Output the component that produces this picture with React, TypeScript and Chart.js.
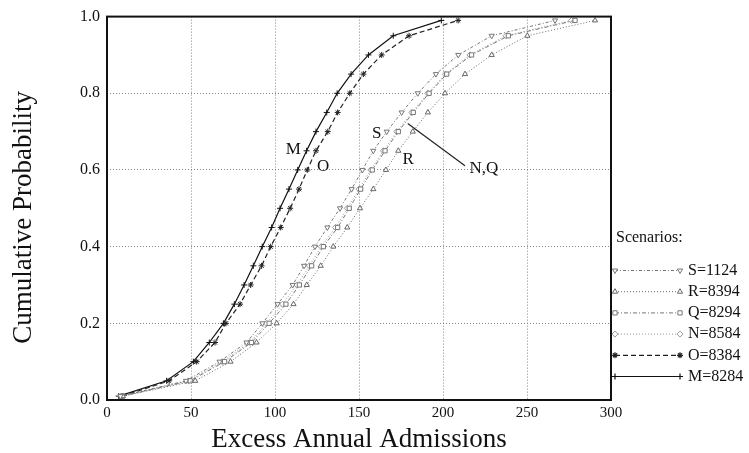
import { useEffect, useRef } from 'react';
import { Chart, registerables } from 'chart.js';
import { drawPoint } from 'chart.js/helpers';

Chart.register(...registerables);

const SERIF = '"Liberation Serif", "DejaVu Serif", serif';

// cumulative probability levels at which each curve is marked
const probabilities = [0.01, 0.05, 0.10, 0.15, 0.20, 0.25, 0.30, 0.35, 0.40, 0.45, 0.50, 0.55, 0.60, 0.65, 0.70, 0.75, 0.80, 0.85, 0.90, 0.95, 0.99];

// excess annual admissions for each scenario
const admissionsS = [8, 47, 67, 83, 92.5, 101.5, 110.5, 117.3, 123.8, 131.2, 138.7, 145.6, 152, 158.5, 166.5, 175.4, 185, 195.8, 209.1, 229, 266.7];
const admissionsR = [9.5, 52.5, 73.5, 89, 101, 111, 118.9, 127.2, 134.7, 143, 150.6, 158.5, 166, 173.4, 182, 191, 201.2, 213.1, 229, 250.2, 290.5];
const admissionsQ = [9, 49.5, 70, 86, 96.5, 106.5, 114.5, 121.8, 128.8, 137.3, 144.2, 151, 157.9, 165.5, 173.4, 182.3, 191.7, 202.2, 217, 238.9, 278.6];
const admissionsN = [8.5, 48.5, 68.5, 85, 95, 104.5, 113, 120.5, 127.5, 136, 143, 150, 157, 164.5, 172.5, 181.5, 191, 201.5, 216, 237.5, 276.5];
const admissionsO = [9, 37, 53.4, 64.3, 70.8, 79.2, 85.5, 92, 97.4, 103.4, 109, 114.3, 119.2, 124.4, 131.4, 137.3, 144.5, 152.6, 163.5, 179.8, 209];
const admissionsM = [7, 35.5, 51.4, 60.9, 69.3, 75.8, 81.6, 87.1, 92.4, 98, 103, 108.3, 113.5, 118.8, 124.4, 130.8, 137, 145.3, 155.6, 170.4, 199];

const scenarioLabels = ['S=1124', 'R=8394', 'Q=8294', 'N=8584', 'O=8384', 'M=8284'];

const xTicks = [0, 50, 100, 150, 200, 250, 300];
const yTicks = [0, 0.2, 0.4, 0.6, 0.8, 1.0];

const xTitle = 'Excess Annual Admissions';
const yTitle = 'Cumulative Probability';
const legendTitle = 'Scenarios:';

// in-plot curve labels (data coordinates)
const annotationTexts = ['M', 'O', 'S', 'R', 'N,Q'];
const annotationX = [110.9, 128.7, 160.5, 179.3, 224.4];
const annotationY = [0.652, 0.609, 0.695, 0.626, 0.604];
const leaderX = [179, 213.1];
const leaderY = [0.721, 0.611];

const toPoints = (xs: number[]) => xs.map((x, i) => ({ x, y: probabilities[i] }));

const framePlugin = {
  id: 'frame',
  afterDatasetsDraw(chart: any) {
    const { ctx, chartArea: a, scales } = chart;
    ctx.save();
    ctx.strokeStyle = '#111';
    ctx.lineWidth = 2;
    ctx.setLineDash([]);
    ctx.strokeRect(a.left, a.top, a.right - a.left, a.bottom - a.top);

    ctx.fillStyle = '#111';
    ctx.font = `17px ${SERIF}`;
    ctx.textAlign = 'center';
    ctx.textBaseline = 'middle';
    annotationTexts.forEach((t, i) => {
      ctx.fillText(t, scales.x.getPixelForValue(annotationX[i]), scales.y.getPixelForValue(annotationY[i]));
    });
    ctx.lineWidth = 1.2;
    ctx.strokeStyle = '#222';
    ctx.beginPath();
    ctx.moveTo(scales.x.getPixelForValue(leaderX[0]), scales.y.getPixelForValue(leaderY[0]));
    ctx.lineTo(scales.x.getPixelForValue(leaderX[1]), scales.y.getPixelForValue(leaderY[1]));
    ctx.stroke();
    ctx.restore();
  },
  afterDraw(chart: any) {
    const { ctx, chartArea: a } = chart;
    ctx.save();
    // y-axis title, drawn rotated
    ctx.font = `27px ${SERIF}`;
    ctx.fillStyle = '#111';
    ctx.textAlign = 'center';
    ctx.textBaseline = 'middle';
    ctx.translate(24, (a.top + a.bottom) / 2 + 9);
    ctx.rotate(-Math.PI / 2);
    ctx.fillText(yTitle, 0, 0);
    ctx.restore();

    const x0 = a.right + 4;
    const x1 = a.right + 69;
    const tx = a.right + 77;
    ctx.save();
    ctx.font = `16px ${SERIF}`;
    ctx.fillStyle = '#111';
    ctx.textAlign = 'left';
    ctx.textBaseline = 'middle';
    ctx.fillText(legendTitle, a.right + 5, 238);
    chart.data.datasets.forEach((ds: any, i: number) => {
      const y = 270.5 + i * 21.2;
      ctx.strokeStyle = ds.borderColor;
      ctx.lineWidth = ds.borderWidth;
      ctx.setLineDash(ds.borderDash || []);
      ctx.beginPath();
      ctx.moveTo(x0, y);
      ctx.lineTo(x1, y);
      ctx.stroke();
      ctx.setLineDash([]);
      ctx.fillStyle = '#fff';
      ctx.strokeStyle = ds.pointBorderColor;
      for (const px of [x0, x1]) {
        drawPoint(ctx, { pointStyle: ds.pointStyle, rotation: ds.pointRotation || 0, radius: ds.pointRadius, borderWidth: ds.pointBorderWidth }, px, y);
      }
      ctx.fillStyle = '#111';
      ctx.fillText(ds.label, tx, y);
    });
    ctx.restore();
  },
};

export default function App() {
  const ref = useRef<HTMLCanvasElement | null>(null);

  useEffect(() => {
    if (!ref.current) return;
    const common = { fill: false, tension: 0, pointRadius: 3, pointBorderWidth: 1, pointBackgroundColor: '#fff', borderWidth: 1 };
    const chart = new Chart(ref.current, {
      type: 'line',
      data: {
        datasets: [
          { ...common, label: scenarioLabels[0], data: toPoints(admissionsS), borderColor: '#777', pointBorderColor: '#777', borderDash: [3, 2, 1, 2], pointStyle: 'triangle', pointRotation: 180 },
          { ...common, label: scenarioLabels[1], data: toPoints(admissionsR), borderColor: '#666', pointBorderColor: '#666', borderDash: [1, 2], pointStyle: 'triangle' },
          { ...common, label: scenarioLabels[2], data: toPoints(admissionsQ), borderColor: '#777', pointBorderColor: '#777', borderDash: [4, 2, 1, 2], pointStyle: 'rect' },
          { ...common, label: scenarioLabels[3], data: toPoints(admissionsN), borderColor: '#999', pointBorderColor: '#999', borderDash: [1, 2], pointStyle: 'rectRot' },
          { ...common, label: scenarioLabels[4], data: toPoints(admissionsO), borderColor: '#222', pointBorderColor: '#222', borderDash: [5, 3], pointStyle: 'star', borderWidth: 1.2 },
          { ...common, label: scenarioLabels[5], data: toPoints(admissionsM), borderColor: '#111', pointBorderColor: '#111', borderDash: [], pointStyle: 'cross', borderWidth: 1.2 },
        ] as any,
      },
      options: {
        animation: false,
        responsive: false,
        maintainAspectRatio: false,
        layout: { padding: { left: 0, right: 138, top: 15, bottom: 0 } },
        plugins: { legend: { display: false }, tooltip: { enabled: false } },
        elements: { line: { borderCapStyle: 'butt' } },
        scales: {
          x: {
            type: 'linear',
            min: 0,
            max: 300,
            afterFit: (s: any) => { s.height = 53; },
            afterBuildTicks: (s: any) => { s.ticks = xTicks.map((v) => ({ value: v })); },
            ticks: { padding: 4, maxRotation: 0, color: '#111', font: { family: SERIF, size: 15 } },
            grid: {
              drawTicks: false,
              lineWidth: 1,
              color: (c: any) => (c.tick && (c.tick.value === 0 || c.tick.value === 300) ? 'rgba(0,0,0,0)' : '#888'),
            },
            border: { display: false, dash: [1, 2] },
            title: { display: true, text: xTitle, color: '#111', font: { family: SERIF, size: 27, lineHeight: 1 }, padding: { top: 0, bottom: 0 } },
          },
          y: {
            type: 'linear',
            min: 0,
            max: 1,
            afterFit: (s: any) => { s.width = 107; },
            afterBuildTicks: (s: any) => { s.ticks = yTicks.map((v) => ({ value: v })); },
            ticks: { padding: 7, color: '#111', font: { family: SERIF, size: 16 }, callback: (v: any) => Number(v).toFixed(1) },
            grid: {
              drawTicks: false,
              lineWidth: 1,
              color: (c: any) => (c.tick && (c.tick.value === 0 || c.tick.value === 1) ? 'rgba(0,0,0,0)' : '#888'),
            },
            border: { display: false, dash: [1, 2] },
            title: { display: false },
          },
        },
      } as any,
      plugins: [framePlugin],
    });
    return () => chart.destroy();
  }, []);

  return (
    <div style={{ position: 'fixed', left: 0, top: 0, width: 749, height: 453, background: '#fff' }}>
      <canvas ref={ref} width={749} height={453} style={{ width: 749, height: 453, display: 'block' }} />
    </div>
  );
}
